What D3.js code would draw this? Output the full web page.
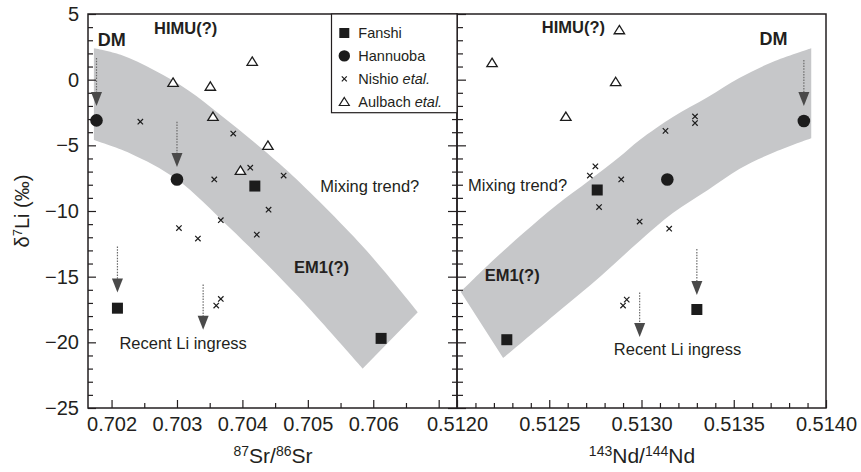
<!DOCTYPE html>
<html>
<head>
<meta charset="utf-8">
<script src="https://cdn.jsdelivr.net/npm/d3@7"></script>
<style>
  body { margin: 0; background: #fff; }
  svg text { font-family: "Liberation Sans", Arial, sans-serif; fill: #231f20; }
</style>
</head>
<body>
<div id="my_dataviz"></div>
<script>
// ---- data ----
// left panel: 87Sr/86Sr vs d7Li
var fanshiSr   = [[0.70209, -17.4], [0.70419, -8.1], [0.70612, -19.7]];
var hannuobaSr = [[0.70177, -3.1], [0.70300, -7.6]];
var nishioSr   = [[0.70244, -3.2], [0.70357, -7.6], [0.70386, -4.1], [0.70412, -6.7], [0.70463, -7.3],
                  [0.70440, -9.9], [0.70367, -10.7], [0.70303, -11.3], [0.70422, -11.8], [0.70332, -12.1],
                  [0.70360, -17.2], [0.70367, -16.7]];
var aulbachSr  = [[0.70294, -0.2], [0.70351, -0.5], [0.70355, -2.8], [0.70415, 1.4], [0.70439, -5.0], [0.70397, -6.9]];

// right panel: 143Nd/144Nd vs d7Li
var fanshiNd   = [[0.51276, -8.4], [0.51227, -19.8], [0.51330, -17.5]];
var hannuobaNd = [[0.51314, -7.6], [0.51388, -3.15]];
var nishioNd   = [[0.51313, -3.9], [0.51329, -2.8], [0.51329, -3.3], [0.51275, -6.6], [0.51272, -7.3],
                  [0.51289, -7.6], [0.51277, -9.7], [0.51299, -10.8], [0.51315, -11.35], [0.51290, -17.2],
                  [0.51292, -16.75]];
var aulbachNd  = [[0.51219, 1.3], [0.51288, 3.8], [0.51286, -0.15], [0.51259, -2.8]];

// shaded mixing-trend bands (upper edge, then lower edge)
var bandSrTop    = [[0.70173, 2.4], [0.70214, 1.9], [0.70266, 0.7], [0.70317, -0.8], [0.70367, -2.7],
                    [0.70419, -4.8], [0.70470, -7.0], [0.70584, -12.7], [0.70668, -17.7]];
var bandSrBottom = [[0.70584, -22.0], [0.70483, -16.4], [0.70381, -11.3], [0.70300, -7.6], [0.70228, -5.6], [0.70173, -4.6]];
var bandNdTop    = [[0.51202, -16.15], [0.51218, -13.96], [0.51236, -11.68], [0.51254, -9.54], [0.51272, -7.64],
                    [0.51288, -5.89], [0.51299, -4.59], [0.51317, -2.84], [0.51336, -1.32], [0.51353, 0.13],
                    [0.51371, 1.35], [0.51392, 2.4]];
var bandNdBottom = [[0.51392, -4.46], [0.51371, -5.58], [0.51353, -6.80], [0.51336, -8.40], [0.51317, -10.15],
                    [0.51299, -12.28], [0.51278, -14.95], [0.51256, -17.54], [0.51236, -19.9], [0.51225, -21.2]];

// dotted arrows: [x, start, tip]
var arrowsSr = [[0.70177, 1.65, -2.0], [0.70300, -3.2, -6.65], [0.70209, -12.7, -16.2], [0.70340, -15.6, -19.05]];
var arrowsNd = [[0.51388, 1.5, -2.0], [0.51330, -12.9, -16.4], [0.51299, -16.2, -19.6]];

// annotations: [x, y, text, bold]
var labelsSr = [[0.70179, 2.56, "DM", 2], [0.70265, 3.45, "HIMU(?)", 1], [0.70519, -8.53, "Mixing trend?", 0],
                [0.70479, -14.7, "EM1(?)", 1], [0.70212, -20.5, "Recent Li ingress", 0]];
var labelsNd = [[0.51364, 2.64, "DM", 2], [0.51246, 3.53, "HIMU(?)", 1], [0.51206, -8.48, "Mixing trend?", 0],
                [0.51215, -15.3, "EM1(?)", 1], [0.51285, -20.96, "Recent Li ingress", 0]];

// ticks
var yTicks  = [5, 0, -5, -10, -15, -20, -25];
var yMinor  = [4, 3, 2, 1, -1, -2, -3, -4, -6, -7, -8, -9, -11, -12, -13, -14, -16, -17, -18, -19, -21, -22, -23, -24];
var srTicks = [0.702, 0.703, 0.704, 0.705, 0.706, 0.707];
var srMinor = [0.7025, 0.7035, 0.7045, 0.7055, 0.7065];
var ndTicks = [0.5120, 0.5125, 0.5130, 0.5135, 0.5140];
var ndMinor = [0.5121, 0.5122, 0.5123, 0.5124, 0.5126, 0.5127, 0.5128, 0.5129, 0.5131, 0.5132, 0.5133, 0.5134,
               0.5136, 0.5137, 0.5138, 0.5139];

var legendNames = ["Fanshi", "Hannuoba", "Nishio", "Aulbach"];

// ---- chart ----
var ink = "#231f20";
var svg = d3.select("#my_dataviz")
    .append("svg")
        .attr("width", 861)
        .attr("height", 472);

var y = d3.scaleLinear().domain([-25, 5]).range([408, 14]);
var xSr = d3.scaleLinear().domain([0.70164, 0.70728]).range([88, 457]);
var xNd = d3.scaleLinear().domain([0.5120, 0.5140]).range([457, 826]);

// bands
function bandPath(x, top, bottom) {
    var line = d3.line()
        .x(function(d) { return x(d[0]); })
        .y(function(d) { return y(d[1]); })
        .curve(d3.curveCatmullRom);
    return line(top) + "L" + line(bottom).slice(1) + "Z";
}
svg.append("path").attr("d", bandPath(xSr, bandSrTop, bandSrBottom)).attr("fill", "#c6c7c9");
svg.append("path").attr("d", bandPath(xNd, bandNdTop, bandNdBottom)).attr("fill", "#c6c7c9");

// axes helper
function addAxis(axis, tx, ty) {
    var g = svg.append("g")
        .attr("transform", "translate(" + tx + "," + ty + ")")
        .call(axis);
    g.select(".domain").remove();
    g.selectAll("line").attr("stroke", ink).attr("stroke-width", 1.2);
    g.selectAll("text").style("font-size", "20px").attr("fill", ink);
    return g;
}

// y axes
addAxis(d3.axisLeft(y).tickValues(yTicks).tickSizeInner(-8).tickSizeOuter(0).tickPadding(9), 88, 0);
addAxis(d3.axisLeft(y).tickValues(yMinor).tickSizeInner(-5).tickSizeOuter(0).tickFormat(""), 88, 0);
addAxis(d3.axisRight(y).tickValues(yTicks).tickSizeInner(-9).tickSizeOuter(0).tickFormat(""), 457, 0);
addAxis(d3.axisRight(y).tickValues(yMinor).tickSizeInner(-5).tickSizeOuter(0).tickFormat(""), 457, 0);
addAxis(d3.axisLeft(y).tickValues(yTicks).tickSizeInner(-9).tickSizeOuter(0).tickFormat(""), 457, 0);
addAxis(d3.axisLeft(y).tickValues(yMinor).tickSizeInner(-6).tickSizeOuter(0).tickFormat(""), 457, 0);

// x axes
addAxis(d3.axisBottom(xSr).tickValues(srTicks).tickSizeInner(-8).tickSizeOuter(0).tickPadding(9)
    .tickFormat(function(d) { return d === 0.707 ? "" : d3.format(".3f")(d); }), 0, 408);
addAxis(d3.axisBottom(xSr).tickValues(srMinor).tickSizeInner(-5).tickSizeOuter(0).tickFormat(""), 0, 408);
addAxis(d3.axisBottom(xNd).tickValues(ndTicks).tickSizeInner(-8).tickSizeOuter(0).tickPadding(9)
    .tickFormat(d3.format(".4f")), 0, 408);
addAxis(d3.axisBottom(xNd).tickValues(ndMinor).tickSizeInner(-5).tickSizeOuter(0).tickFormat(""), 0, 408);

// panel frames
svg.append("rect").attr("x", 88).attr("y", 14).attr("width", 369).attr("height", 394)
    .attr("fill", "none").attr("stroke", ink).attr("stroke-width", 1.5);
svg.append("rect").attr("x", 457).attr("y", 14).attr("width", 369).attr("height", 394)
    .attr("fill", "none").attr("stroke", ink).attr("stroke-width", 1.5);

// markers
function square(g, data, x) {
    g.selectAll(null).data(data).enter().append("rect")
        .attr("x", function(d) { return x(d[0]) - 5.5; })
        .attr("y", function(d) { return y(d[1]) - 5.5; })
        .attr("width", 11).attr("height", 11)
        .attr("fill", "#1c1c1c");
}
function circle(g, data, x) {
    g.selectAll(null).data(data).enter().append("circle")
        .attr("cx", function(d) { return x(d[0]); })
        .attr("cy", function(d) { return y(d[1]); })
        .attr("r", 6.3)
        .attr("fill", "#1c1c1c");
}
function cross(g, data, x) {
    g.selectAll(null).data(data).enter().append("path")
        .attr("d", function(d) {
            var cx = x(d[0]), cy = y(d[1]), s = 2.7;
            return "M" + (cx - s) + "," + (cy - s) + "L" + (cx + s) + "," + (cy + s) +
                   "M" + (cx - s) + "," + (cy + s) + "L" + (cx + s) + "," + (cy - s);
        })
        .attr("stroke", "#1c1c1c").attr("stroke-width", 1.2).attr("fill", "none");
}
function triangle(g, data, x) {
    g.selectAll(null).data(data).enter().append("path")
        .attr("d", function(d) {
            var cx = x(d[0]), cy = y(d[1]);
            return "M" + cx + "," + (cy - 4.4) + "L" + (cx + 5.2) + "," + (cy + 4) + "L" + (cx - 5.2) + "," + (cy + 4) + "Z";
        })
        .attr("stroke", "#1c1c1c").attr("stroke-width", 1.3).attr("fill", "#fff");
}

var gL = svg.append("g"), gR = svg.append("g");
triangle(gL, aulbachSr, xSr); cross(gL, nishioSr, xSr); square(gL, fanshiSr, xSr); circle(gL, hannuobaSr, xSr);
triangle(gR, aulbachNd, xNd); cross(gR, nishioNd, xNd); square(gR, fanshiNd, xNd); circle(gR, hannuobaNd, xNd);

// dotted arrows
function arrows(data, x) {
    data.forEach(function(a) {
        var ax = x(a[0]), y0 = y(a[1]), tip = y(a[2]);
        svg.append("line")
            .attr("x1", ax).attr("x2", ax).attr("y1", y0).attr("y2", tip - 13)
            .attr("stroke", "#6a6a6a").attr("stroke-width", 1.2).attr("stroke-dasharray", "1.5,1.3");
        svg.append("path")
            .attr("d", "M" + (ax - 5.5) + "," + (tip - 14) + "L" + (ax + 5.5) + "," + (tip - 14) + "L" + ax + "," + tip + "Z")
            .attr("fill", "#4a4a4a");
    });
}
arrows(arrowsSr, xSr);
arrows(arrowsNd, xNd);

// annotations
function labels(data, x) {
    data.forEach(function(l) {
        svg.append("text")
            .attr("x", x(l[0])).attr("y", y(l[1]))
            .style("font-size", l[3] == 2 ? "18px" : "16.5px")
            .style("font-weight", l[3] ? "bold" : "normal")
            .text(l[2]);
    });
}
labels(labelsSr, xSr);
labels(labelsNd, xNd);

// axis titles
var tSr = svg.append("text").attr("x", 273).attr("y", 463).attr("text-anchor", "middle").style("font-size", "21px");
tSr.append("tspan").attr("dy", -7).style("font-size", "14px").text("87");
tSr.append("tspan").attr("dy", 7).text("Sr/");
tSr.append("tspan").attr("dy", -7).style("font-size", "14px").text("86");
tSr.append("tspan").attr("dy", 7).text("Sr");

var tNd = svg.append("text").attr("x", 642).attr("y", 463).attr("text-anchor", "middle").style("font-size", "21px");
tNd.append("tspan").attr("dy", -7).style("font-size", "14px").text("143");
tNd.append("tspan").attr("dy", 7).text("Nd/");
tNd.append("tspan").attr("dy", -7).style("font-size", "14px").text("144");
tNd.append("tspan").attr("dy", 7).text("Nd");

var tY = svg.append("text").attr("transform", "translate(29,211) rotate(-90)")
    .attr("text-anchor", "middle").style("font-size", "20px");
tY.append("tspan").text("\u03b4");
tY.append("tspan").attr("dy", -7).style("font-size", "13px").text("7");
tY.append("tspan").attr("dy", 7).text("Li (\u2030)");

// legend
var legend = svg.append("g");
legend.append("rect").attr("x", 331.5).attr("y", 14).attr("width", 125.5).attr("height", 98.7)
    .attr("fill", "#fff").attr("stroke", ink).attr("stroke-width", 1.2);
legendNames.forEach(function(name, i) {
    var cy = 33 + i * 22.9, cx = 344.3;
    if (i == 0) legend.append("rect").attr("x", cx - 5).attr("y", cy - 5).attr("width", 10).attr("height", 10).attr("fill", "#1c1c1c");
    if (i == 1) legend.append("circle").attr("cx", cx).attr("cy", cy).attr("r", 5.7).attr("fill", "#1c1c1c");
    if (i == 2) legend.append("path")
        .attr("d", "M" + (cx - 2.5) + "," + (cy - 2.5) + "L" + (cx + 2.5) + "," + (cy + 2.5) + "M" + (cx - 2.5) + "," + (cy + 2.5) + "L" + (cx + 2.5) + "," + (cy - 2.5))
        .attr("stroke", "#1c1c1c").attr("stroke-width", 1.2);
    if (i == 3) legend.append("path")
        .attr("d", "M" + cx + "," + (cy - 4.2) + "L" + (cx + 5) + "," + (cy + 3.8) + "L" + (cx - 5) + "," + (cy + 3.8) + "Z")
        .attr("stroke", "#1c1c1c").attr("stroke-width", 1.2).attr("fill", "#fff");
    var t = legend.append("text").attr("x", 358.3).attr("y", cy + 5).style("font-size", "14.5px").text(name);
    if (i >= 2) t.append("tspan").style("font-style", "italic").text(" etal.");
});
</script>
</body>
</html>
